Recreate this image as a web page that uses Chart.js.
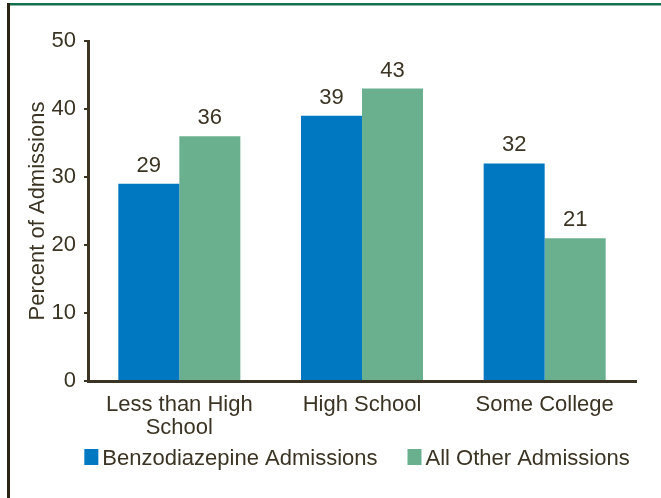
<!DOCTYPE html>
<html><head><meta charset="utf-8">
<script src="https://cdn.jsdelivr.net/npm/chart.js@4/dist/chart.umd.min.js"></script>
<style>html,body{margin:0;padding:0;background:#fff}#wrap{width:661px;height:498px;position:relative}</style>
</head><body><div id="wrap"><canvas id="c" width="661" height="498"></canvas></div>
<script>
const categories = [["Less than High", "School"], "High School", "Some College"];
const benzoValues = [29, 39, 32];
const otherValues = [36, 43, 21];
const seriesNames = ["Benzodiazepine Admissions", "All Other Admissions"];
const yTicks = [0, 10, 20, 30, 40, 50];
const yTitle = "Percent of Admissions";

const TEXT = "#3b3424";
const BLUE = "#0077c1";
const GREEN = "#6ab08f";
const FONT = "'Liberation Sans', Arial, Helvetica, sans-serif";

const framePlugin = {
  id: "frame",
  beforeDraw(chart) {
    const ctx = chart.ctx;
    ctx.save();
    ctx.fillStyle = "#ffffff";
    ctx.fillRect(0, 0, chart.width, chart.height);
    ctx.fillStyle = "#12704c";
    ctx.fillRect(7, 3, chart.width - 7, 2.5);
    ctx.fillStyle = "#2b2314";
    ctx.fillRect(7, 3, 3, chart.height - 3);
    ctx.restore();
  }
};

const labelPlugin = {
  id: "vals",
  afterDatasetsDraw(chart) {
    const ctx = chart.ctx;
    ctx.save();
    ctx.font = "22px " + FONT;
    ctx.fillStyle = TEXT;
    ctx.textAlign = "center";
    ctx.textBaseline = "alphabetic";
    chart.data.datasets.forEach((ds, i) => {
      chart.getDatasetMeta(i).data.forEach((el, j) => {
        ctx.fillText(String(ds.data[j]), el.x, el.y - 12);
      });
    });
    ctx.restore();
  }
};

const legendPlugin = {
  id: "customLegend",
  afterDraw(chart) {
    const ctx = chart.ctx;
    ctx.save();
    ctx.font = "22px " + FONT;
    ctx.textBaseline = "alphabetic";
    ctx.textAlign = "left";
    const boxW = 14, boxH = 16, gapBox = 4, gapItem = 30;
    const items = chart.data.datasets.map(ds => ({
      label: ds.label, color: ds.backgroundColor, w: ctx.measureText(ds.label).width
    }));
    let total = 0;
    items.forEach((it, i) => { total += boxW + gapBox + it.w + (i ? gapItem : 0); });
    let x = 357 - total / 2;
    const base = 465;
    items.forEach(it => {
      ctx.fillStyle = it.color;
      ctx.fillRect(x, base - boxH, boxW, boxH);
      x += boxW + gapBox;
      ctx.fillStyle = TEXT;
      ctx.fillText(it.label, x, base);
      x += it.w + gapItem;
    });
    ctx.restore();
  }
};

new Chart(document.getElementById("c"), {
  type: "bar",
  data: {
    labels: categories,
    datasets: [
      { label: seriesNames[0], data: benzoValues, backgroundColor: BLUE },
      { label: seriesNames[1], data: otherValues, backgroundColor: GREEN }
    ]
  },
  options: {
    responsive: false,
    animation: false,
    devicePixelRatio: 1,
    layout: { padding: { top: 41, right: 25, left: 10, bottom: 0 } },
    plugins: { legend: { display: false }, tooltip: { enabled: false } },
    datasets: { bar: { categoryPercentage: 0.668, barPercentage: 1.0 } },
    scales: {
      x: {
        afterFit(s) { s.height = 117; },
        grid: { display: false, drawTicks: false },
        border: { display: true, color: "#3b3424", width: 3 },
        ticks: {
          color: TEXT, padding: 13,
          font: { family: FONT, size: 22, lineHeight: 1.02 },
          maxRotation: 0, autoSkip: false
        }
      },
      y: {
        min: 0, max: 50,
        afterFit(s) { s.width = 78; },
        afterBuildTicks(s) { s.ticks = yTicks.map(v => ({ value: v })); },
        grid: { display: true, drawOnChartArea: false, drawTicks: true, tickLength: 4, color: "#3b3424", lineWidth: 2 },
        border: { display: true, color: "#3b3424", width: 3 },
        ticks: { color: TEXT, padding: 8, font: { family: FONT, size: 22 } },
        title: {
          display: true, text: yTitle, color: TEXT,
          font: { family: FONT, size: 22, lineHeight: 1.1 },
          padding: { top: 16, bottom: 0 }
        }
      }
    }
  },
  plugins: [framePlugin, labelPlugin, legendPlugin]
});
</script></body></html>
